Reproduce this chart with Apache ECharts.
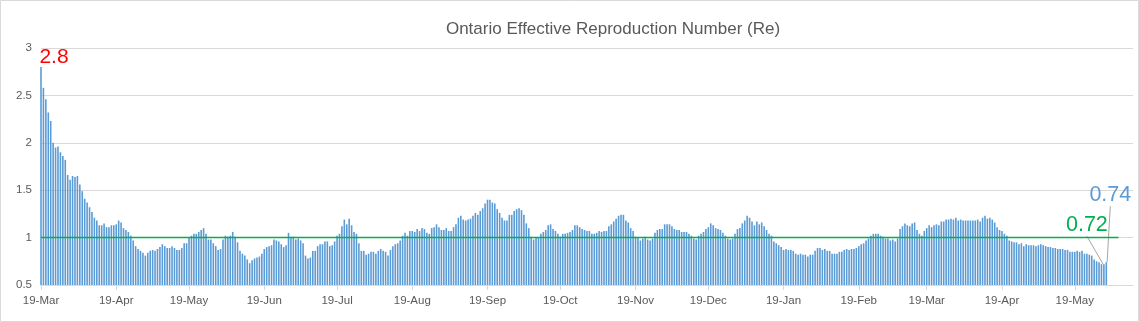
<!DOCTYPE html>
<html>
<head>
<meta charset="utf-8">
<script src="https://cdn.jsdelivr.net/npm/echarts@6/dist/echarts.min.js"></script>
<style>
html,body{margin:0;padding:0;background:#ffffff;}
#chart{width:1139px;height:322px;}
</style>
</head>
<body>
<div id="chart"></div>
<script>
// ---- data ----
const chartTitle = 'Ontario Effective Reproduction Number (Re)';
const startDate = [2020, 2, 19];       // 19-Mar-2020 (month is 0-based)
const categoryCount = 451;             // days shown on the axis
const tickDayOfMonth = 19;             // ticks/labels on the 19th of each month
const monthNames = ['Jan','Feb','Mar','Apr','May','Jun','Jul','Aug','Sep','Oct','Nov','Dec'];

// daily Re values from 19-Mar-2020
const reValues = [
  2.80, 2.58, 2.46, 2.32, 2.23, 2.00, 1.95, 1.96, 1.90, 1.86,
  1.82, 1.66, 1.61, 1.65, 1.64, 1.65, 1.56, 1.49, 1.41, 1.37,
  1.32, 1.27, 1.21, 1.18, 1.13, 1.13, 1.15, 1.11, 1.11, 1.13,
  1.13, 1.14, 1.18, 1.16, 1.10, 1.08, 1.06, 1.02, 0.97, 0.91,
  0.88, 0.86, 0.84, 0.81, 0.84, 0.86, 0.87, 0.86, 0.88, 0.90,
  0.93, 0.91, 0.89, 0.89, 0.91, 0.89, 0.87, 0.87, 0.89, 0.94,
  0.94, 1.00,
  1.02, 1.04, 1.04, 1.06, 1.08, 1.10, 1.04, 0.98, 0.98, 0.94,
  0.91, 0.87, 0.88, 0.98, 1.02, 1.01, 1.02, 1.06, 1.01, 0.95,
  0.86, 0.83, 0.81, 0.77, 0.73, 0.76, 0.78, 0.79, 0.80, 0.83,
  0.88, 0.90, 0.91, 0.92, 0.98, 0.97, 0.96, 0.93, 0.90, 0.92,
  1.05, 1.01, 1.01, 0.98, 0.99, 0.97, 0.94, 0.81, 0.78, 0.79,
  0.86, 0.86, 0.91, 0.93, 0.93, 0.96, 0.96, 0.91, 0.92, 0.96,
  1.02, 1.04, 1.12, 1.19, 1.14, 1.20, 1.13, 1.06, 1.04, 0.94,
  0.86, 0.86, 0.82, 0.83, 0.85, 0.85, 0.83, 0.86, 0.88, 0.86,
  0.85, 0.81, 0.87, 0.91, 0.93, 0.94, 0.97, 1.02, 1.05, 1.02,
  1.07, 1.07, 1.06, 1.09, 1.07, 1.10, 1.09, 1.05, 1.04, 1.10,
  1.11, 1.14, 1.11, 1.08, 1.08, 1.10, 1.07, 1.07, 1.11, 1.14,
  1.21, 1.23, 1.19, 1.18, 1.19, 1.20, 1.23, 1.26, 1.24, 1.28,
  1.31, 1.36, 1.40, 1.40, 1.37, 1.36, 1.30, 1.26, 1.21, 1.18,
  1.18, 1.24, 1.24, 1.28, 1.30, 1.31, 1.29, 1.24, 1.15, 1.10,
  1.01, 0.98, 1.00, 1.00, 1.04, 1.06, 1.08, 1.13, 1.14, 1.09,
  1.07, 1.04, 1.01, 1.04, 1.04, 1.05, 1.06, 1.08, 1.13, 1.13,
  1.11, 1.09, 1.08, 1.07, 1.07, 1.04, 1.04, 1.05, 1.07, 1.06,
  1.07, 1.07, 1.12, 1.14, 1.17, 1.20, 1.23, 1.24, 1.24, 1.18,
  1.16, 1.10, 1.07, 1.01, 1.00, 0.97, 0.99, 1.01, 0.98, 0.97,
  0.99, 1.05, 1.08, 1.09, 1.09, 1.14, 1.14, 1.14, 1.12, 1.09,
  1.08, 1.08, 1.06, 1.06, 1.06, 1.04, 1.02, 0.99, 0.98, 1.02,
  1.04, 1.06, 1.09, 1.11, 1.15, 1.13, 1.10, 1.09, 1.08, 1.05,
  1.02, 0.99, 0.98, 0.99, 1.04, 1.09, 1.10, 1.15, 1.18, 1.23,
  1.21, 1.17, 1.13, 1.17, 1.14, 1.16, 1.12, 1.08, 1.04, 1.02,
  0.96, 0.94, 0.92, 0.90, 0.87, 0.88, 0.87, 0.87, 0.86, 0.83,
  0.82, 0.83, 0.82, 0.82, 0.80, 0.82, 0.82, 0.86, 0.89, 0.89,
  0.87, 0.88, 0.86, 0.86, 0.83, 0.83, 0.83, 0.85, 0.85, 0.87,
  0.88, 0.87, 0.88, 0.88, 0.89, 0.91, 0.93, 0.94, 0.97, 0.99,
  1.02, 1.04, 1.04, 1.04, 1.02, 1.01, 0.99, 0.99, 0.97, 0.98,
  0.96, 0.99, 1.09, 1.12, 1.15, 1.13, 1.12, 1.15, 1.16, 1.08,
  1.04, 1.02, 1.07, 1.10, 1.13, 1.11, 1.13, 1.14, 1.13, 1.17,
  1.17, 1.19, 1.19, 1.20, 1.19, 1.21, 1.18, 1.19, 1.18, 1.18,
  1.18, 1.18, 1.18, 1.18, 1.19, 1.17, 1.21, 1.23, 1.20, 1.21,
  1.19, 1.16, 1.11, 1.08, 1.07, 1.04, 1.02, 0.97, 0.96, 0.95,
  0.95, 0.93, 0.94, 0.91, 0.93, 0.92, 0.92, 0.92, 0.91, 0.92,
  0.93, 0.92, 0.91, 0.90, 0.90, 0.89, 0.89, 0.88, 0.88, 0.88,
  0.87, 0.87, 0.85, 0.85, 0.85, 0.86, 0.85, 0.86, 0.83, 0.83,
  0.82, 0.81, 0.77, 0.75, 0.74, 0.72, 0.72, 0.74
];

// reference line Re = 1
const thresholdValue = 1;
const thresholdEndIndex = 444;   // the line stops a few days after the last bar

// y axis
const yMin = 0.5, yMax = 3, yStep = 0.5;

// ---- build categories ----
function pad(n){ return (n < 10 ? '0' : '') + n; }
const categories = [];
for (let i = 0; i < categoryCount; i++) {
  const d = new Date(Date.UTC(startDate[0], startDate[1], startDate[2] + i));
  categories.push(d.getUTCFullYear() + '-' + pad(d.getUTCMonth() + 1) + '-' + pad(d.getUTCDate()));
}
function isTickDay(index, value) {
  return Number(String(value).slice(8, 10)) === tickDayOfMonth;
}
function fmtLabel(value) {
  const m = Number(value.slice(5, 7)) - 1;
  return Number(value.slice(8, 10)) + '-' + monthNames[m];
}

const FONT = '"Liberation Sans", Arial, sans-serif';
const TEXT = '#595959';
const GRID = '#d9d9d9';
const BLUE = '#5b9bd5';
const GREEN = '#00b050';

const peakIdx = 0;
const prevIdx = reValues.length - 2;
const lastIdx = reValues.length - 1;

const barData = reValues.map(function (v, i) {
  if (i === peakIdx) {
    return { value: v, label: { show: true, position: 'top',
      color: '#ff0000', fontSize: 21, fontFamily: FONT } };
  }
  if (i === prevIdx) {
    return { value: v,
      label: { show: true, position: 'top', color: GREEN, fontSize: 21.5, fontFamily: FONT },
      labelLine: { show: true, lineStyle: { color: '#a6a6a6', width: 1 } } };
  }
  if (i === lastIdx) {
    return { value: v,
      label: { show: true, position: 'top', color: BLUE, fontSize: 21.5, fontFamily: FONT },
      labelLine: { show: true, lineStyle: { color: '#a6a6a6', width: 1 } } };
  }
  return v;
});

const lineData = [[categories[0], thresholdValue], [categories[thresholdEndIndex], thresholdValue]];

const chart = echarts.init(document.getElementById('chart'), null, { renderer: 'canvas' });
chart.setOption({
  animation: false,
  backgroundColor: '#ffffff',
  title: {
    text: chartTitle,
    left: 613, top: 21, textAlign: 'center', padding: 0,
    textStyle: { color: TEXT, fontSize: 17, fontWeight: 'normal', fontFamily: FONT }
  },
  graphic: [{
    type: 'rect', silent: true, z: -1,
    shape: { x: 0.5, y: 0.5, width: 1138, height: 321 },
    style: { fill: 'none', stroke: GRID, lineWidth: 1 }
  }],
  grid: { left: 41, right: 6, top: 48, bottom: 37, containLabel: false },
  xAxis: {
    type: 'category',
    data: categories,
    boundaryGap: false,
    axisLine: { show: true, lineStyle: { color: GRID, width: 1 } },
    axisTick: { show: true, interval: isTickDay, length: 5, lineStyle: { color: GRID } },
    axisLabel: { interval: isTickDay, formatter: fmtLabel, color: TEXT, fontSize: 11.5,
      fontFamily: FONT, margin: 10 },
    splitLine: { show: false }
  },
  yAxis: {
    type: 'value',
    min: yMin, max: yMax, interval: yStep,
    axisLine: { show: false },
    axisTick: { show: false },
    axisLabel: { color: TEXT, fontSize: 11.5, fontFamily: FONT, margin: 9 },
    splitLine: { show: true, lineStyle: { color: GRID, width: 1 } }
  },
  series: [
    {
      type: 'bar',
      data: barData,
      barWidth: 1.6,
      itemStyle: { color: BLUE },
      labelLayout: function (params) {
        if (params.dataIndex === peakIdx) return { dx: 13, dy: 6 };
        if (params.dataIndex === prevIdx) return { dx: -17, dy: -23 };
        if (params.dataIndex === lastIdx) return { dx: 4, dy: -51 };
      },
      z: 2
    },
    {
      type: 'line',
      data: lineData,
      symbol: 'none',
      lineStyle: { color: GREEN, width: 1.5 },
      z: 3
    }
  ]
});
</script>
</body>
</html>
